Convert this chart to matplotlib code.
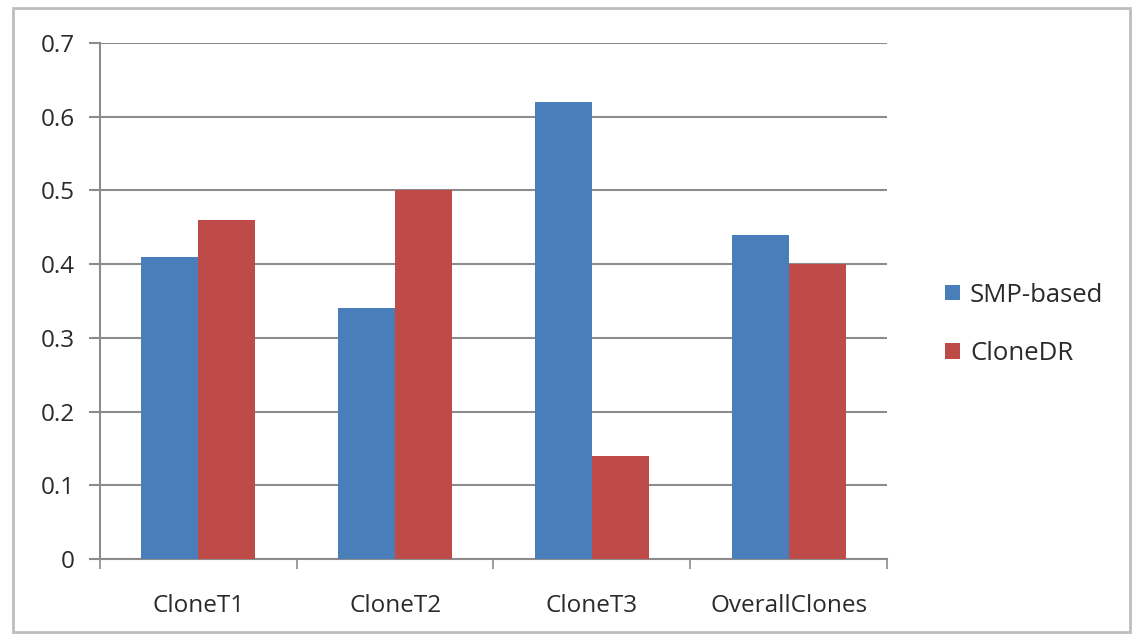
import matplotlib
matplotlib.use("Agg")
import matplotlib.pyplot as plt
from matplotlib.patches import Rectangle
import numpy as np

categories = ["CloneT1", "CloneT2", "CloneT3", "OverallClones"]
smp_based = [0.41, 0.34, 0.62, 0.44]
clone_dr = [0.46, 0.50, 0.14, 0.40]
y_ticks = [0, 0.1, 0.2, 0.3, 0.4, 0.5, 0.6, 0.7]
y_tick_labels = ["0", "0.1", "0.2", "0.3", "0.4", "0.5", "0.6", "0.7"]

BLUE = "#4A7EBB"
RED = "#BE4B48"
GRID = "#8C8C8C"
TEXT = "#2A2A2A"

plt.rcParams["font.family"] = ["Open Sans", "DejaVu Sans"]

fig = plt.figure(figsize=(11.38, 6.39), dpi=100)
ax = fig.add_axes([0.0879, 0.1252, 0.6915, 0.8075])

# outer chart frame
fig.patches.append(Rectangle((0.011, 0.011), 0.982, 0.976, transform=fig.transFigure,
                             fill=False, edgecolor="#BDBDBD", linewidth=2.0))

x = np.arange(len(categories))
w = 0.29
ax.bar(x - w / 2, smp_based, width=w, color=BLUE, label="SMP-based", zorder=3)
ax.bar(x + w / 2, clone_dr, width=w, color=RED, label="CloneDR", zorder=3)

ax.set_xlim(-0.5, len(categories) - 0.5)
ax.set_ylim(0, 0.7)
ax.set_yticks(y_ticks)
ax.set_yticklabels(y_tick_labels)
ax.yaxis.grid(True, color=GRID, linewidth=1.5, zorder=0)
ax.set_axisbelow(True)

ax.set_xticks(x)
ax.set_xticklabels(categories)
ax.tick_params(axis="x", length=0, pad=25, labelsize=17.5, labelcolor=TEXT)
ax.tick_params(axis="y", length=8, width=1.5, color=GRID, pad=10, labelsize=17.5, labelcolor=TEXT)
# category boundary ticks
ax.set_xticks(np.arange(-0.5, len(categories)), minor=True)
ax.tick_params(axis="x", which="minor", length=7, width=1.2, color=GRID, direction="out")

for s in ["top", "right"]:
    ax.spines[s].set_visible(False)
for s in ["left", "bottom"]:
    ax.spines[s].set_color(GRID)
    ax.spines[s].set_linewidth(1.5)

leg = ax.legend(loc="center left", bbox_to_anchor=(1.045, 0.455), frameon=False,
                fontsize=18.5, handlelength=0.55, handleheight=0.55, handletextpad=0.4,
                labelspacing=1.3)
for t in leg.get_texts():
    t.set_color(TEXT)

fig.savefig("out.png", dpi=100)
